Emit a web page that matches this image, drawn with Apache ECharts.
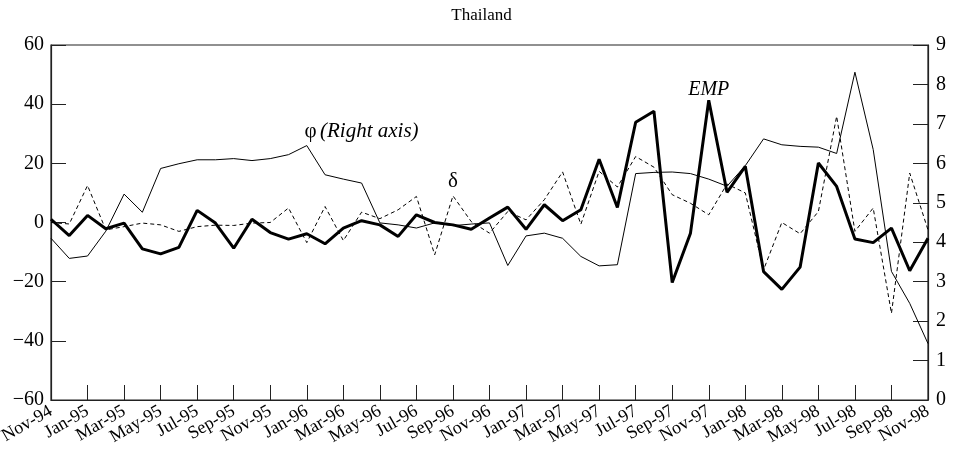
<!DOCTYPE html>
<html>
<head>
<meta charset="utf-8">
<script src="https://cdn.jsdelivr.net/npm/echarts@6/dist/echarts.min.js"></script>
<style>
  html, body { margin: 0; padding: 0; background: #fff; }
  #chart_thailand { width: 963px; height: 456px; }
</style>
</head>
<body>
<div id="chart_thailand"></div>
<script>
// months, Nov-94 .. Nov-98
var months = ['Nov-94','Dec-94','Jan-95','Feb-95','Mar-95','Apr-95','May-95','Jun-95','Jul-95','Aug-95','Sep-95','Oct-95',
  'Nov-95','Dec-95','Jan-96','Feb-96','Mar-96','Apr-96','May-96','Jun-96','Jul-96','Aug-96','Sep-96','Oct-96',
  'Nov-96','Dec-96','Jan-97','Feb-97','Mar-97','Apr-97','May-97','Jun-97','Jul-97','Aug-97','Sep-97','Oct-97',
  'Nov-97','Dec-97','Jan-98','Feb-98','Mar-98','Apr-98','May-98','Jun-98','Jul-98','Aug-98','Sep-98','Oct-98','Nov-98'];

// EMP (left axis)
var emp = [1.1,-4.4,2.4,-2.1,-0.2,-8.9,-10.6,-8.4,4.1,-0.2,-8.7,1.1,
  -3.4,-5.6,-3.8,-7.2,-1.9,0.6,-0.8,-4.7,2.6,0,-0.8,-2.3,
  1.5,5.2,-2.3,6.0,0.6,4.3,21.4,5.1,33.9,37.6,-20.3,-3.6,
  41.3,10.2,19.0,-16.6,-22.6,-15.1,20.1,12.2,-5.6,-6.8,-1.9,-16.3,-5.3];

// delta (left axis)
var delta = [0,-0.5,12.5,-2.5,-1.4,-0.2,-0.8,-3.0,-1.4,-0.9,-1.0,-0.2,
  0,4.9,-6.8,5.4,-6.1,3.5,1.3,4.3,8.8,-10.9,9.0,0.3,
  -3.6,3.7,0.9,7.7,17.1,-0.6,17.3,12.0,22.3,18.7,9.4,6.5,
  2.6,13.0,10.0,-16.0,0,-3.8,3.7,35.9,-3.0,4.9,-30.7,16.7,-2.5];

// phi (right axis)
var phi = [4.10,3.59,3.65,4.28,5.22,4.76,5.87,5.99,6.09,6.09,6.12,6.07,
  6.12,6.22,6.45,5.71,5.60,5.50,4.49,4.44,4.36,4.49,4.42,4.46,
  4.49,3.41,4.16,4.23,4.10,3.64,3.40,3.43,5.74,5.77,5.78,5.74,
  5.60,5.42,5.94,6.62,6.47,6.43,6.41,6.25,8.31,6.35,3.26,2.45,1.43];

var serif = '"Liberation Serif", "DejaVu Serif", serif';

function minus(v) { return String(v).replace('-', '\u2212'); }
function everyOther(i) { return i % 2 === 0; }

var Echarts = echarts.init(document.getElementById('chart_thailand'));
var option = {
    backgroundColor: '#fff',
    animation: false,
    title: {
        text: 'Thailand',
        left: 'center',
        top: 2,
        textStyle: { fontFamily: serif, fontSize: 17, fontWeight: 'normal', color: '#000' }
    },
    grid: {
        left: 51, right: 35, top: 45, bottom: 56,
        outerBoundsMode: 'none', containLabel: false,
        show: true, borderColor: '#222', borderWidth: 1.2, backgroundColor: 'transparent'
    },
    xAxis: {
        type: 'category',
        data: months,
        boundaryGap: false,
        axisLine: { onZero: false, lineStyle: { color: '#222', width: 1.2 } },
        axisTick: { inside: true, length: 15, interval: 1, lineStyle: { color: '#222' } },
        axisLabel: {
            interval: everyOther, rotate: 30, margin: 10, hideOverlap: false,
            color: '#000', fontFamily: serif, fontSize: 18, lineHeight: 12
        },
        splitLine: { show: false }
    },
    yAxis: [
        {
            type: 'value', min: -60, max: 60, interval: 20,
            axisLine: { show: true, lineStyle: { color: '#222', width: 1.2 } },
            axisTick: { show: true, inside: true, length: 15, lineStyle: { color: '#222' } },
            axisLabel: { margin: 7, color: '#000', fontFamily: serif, fontSize: 20, formatter: minus },
            splitLine: { show: false }
        },
        {
            type: 'value', min: 0, max: 9, interval: 1, position: 'right',
            axisLine: { show: true, lineStyle: { color: '#222', width: 1.2 } },
            axisTick: { show: true, inside: true, length: 15, lineStyle: { color: '#222' } },
            axisLabel: { margin: 8, color: '#000', fontFamily: serif, fontSize: 20 },
            splitLine: { show: false }
        }
    ],
    series: [
        {
            name: 'phi', type: 'line', yAxisIndex: 1, data: phi,
            symbol: 'none', lineStyle: { color: '#000', width: 1 },
            markPoint: {
                symbol: 'circle', symbolSize: 0,
                label: {
                    show: true, position: 'inside', color: '#000',
                    formatter: '{a|\u03c6} {b|(Right axis)}',
                    rich: {
                        a: { fontFamily: serif, fontSize: 21, color: '#000' },
                        b: { fontFamily: serif, fontSize: 21, fontStyle: 'italic', color: '#000' }
                    }
                },
                data: [{ coord: ['Apr-96', 6.82] }]
            }
        },
        {
            name: 'delta', type: 'line', data: delta,
            symbol: 'none', lineStyle: { color: '#000', width: 1, type: [4, 3] },
            markPoint: {
                symbol: 'circle', symbolSize: 0,
                label: { show: true, position: 'inside', color: '#000', fontFamily: serif, fontSize: 21, formatter: '\u03b4' },
                data: [{ coord: ['Sep-96', 14] }]
            }
        },
        {
            name: 'EMP', type: 'line', data: emp,
            symbol: 'none', lineStyle: { color: '#000', width: 3 },
            markPoint: {
                symbol: 'circle', symbolSize: 0,
                label: { show: true, position: 'inside', color: '#000', fontFamily: serif, fontSize: 20, fontStyle: 'italic', formatter: 'EMP' },
                data: [{ coord: ['Nov-97', 45] }]
            }
        }
    ]
};
Echarts.setOption(option);
window.addEventListener('resize', Echarts.resize);
</script>
</body>
</html>
